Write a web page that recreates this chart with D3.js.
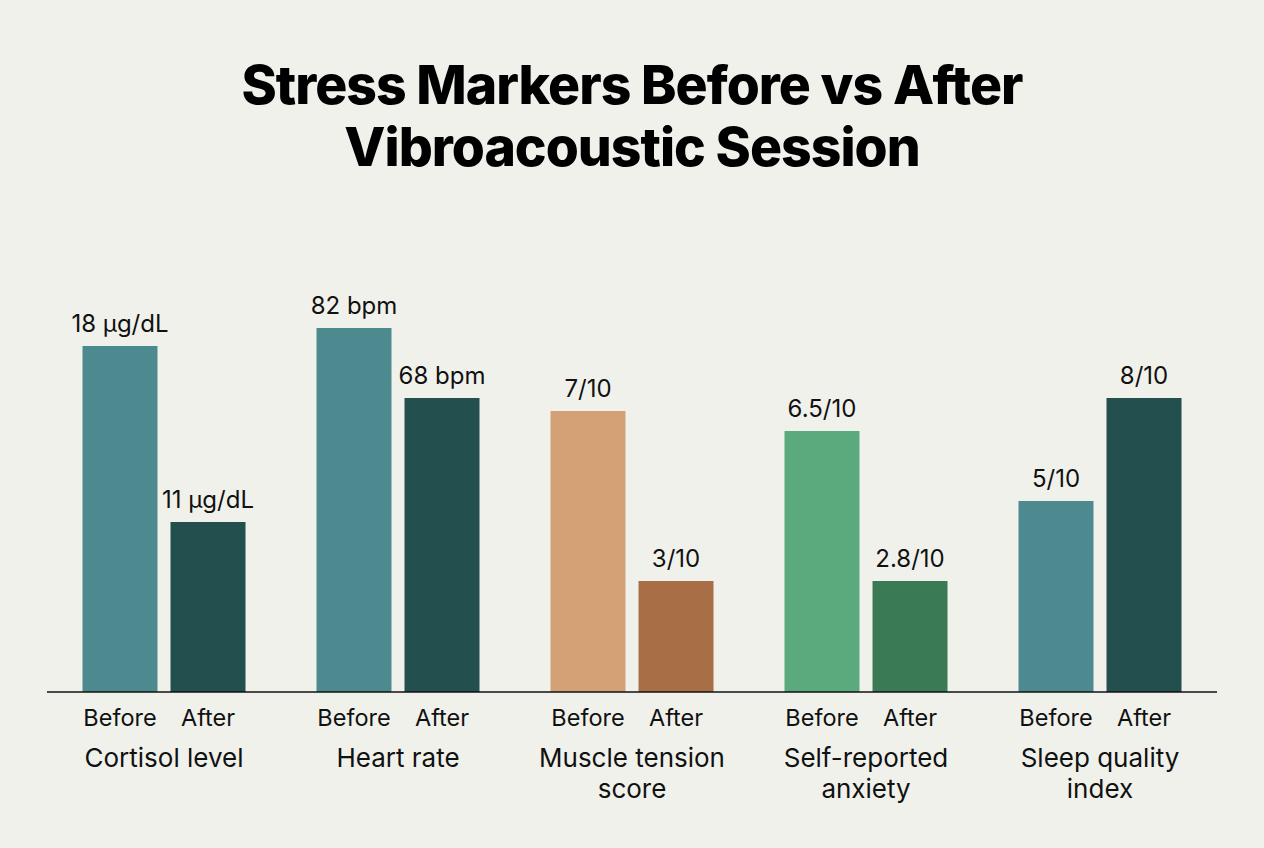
<!DOCTYPE html>
<html lang="en">
<head>
  <meta charset="UTF-8">
  <title>Stress Markers Before vs After</title>
  <script src="https://d3js.org/d3.v7.min.js"></script>
  <style>
    body { margin: 0; background: #f1f1ec; }
    svg { display: block; font-family: Inter, "Noto Sans", sans-serif; }
  </style>
</head>
<body>
  <svg width="1264" height="848"></svg>
  <script>
    // data
    const metrics = ["Cortisol level", "Heart rate", "Muscle tension score", "Self-reported anxiety", "Sleep quality index"];
    const metricLines = [["Cortisol level"], ["Heart rate"], ["Muscle tension", "score"], ["Self-reported", "anxiety"], ["Sleep quality", "index"]];
    const phases = ["Before", "After"];
    const beforeLabels = ["18 µg/dL", "82 bpm", "7/10", "6.5/10", "5/10"];
    const afterLabels = ["11 µg/dL", "68 bpm", "3/10", "2.8/10", "8/10"];
    // bar height as drawn, in % of plot height
    const beforeLevel = [86.5, 91, 70.25, 65.25, 47.75];
    const afterLevel = [42.5, 73.5, 27.75, 27.75, 73.5];
    const beforeColors = ["#4d8a8f", "#4d8a8f", "#d4a176", "#5aaa7e", "#4d8a8f"];
    const afterColors = ["#234f4f", "#234f4f", "#a86e45", "#3a7b55", "#234f4f"];

    const svg = d3.select("svg");
    const baseY = 692;

    const x = d3.scaleBand().domain(metrics).range([47, 1217]);
    const xInner = d3.scaleBand().domain(phases).range([35.5, 198.5]).paddingInner(0.148);
    const y = d3.scaleLinear().domain([0, 100]).range([baseY, baseY - 400]);

    // title
    svg.append("text")
      .attr("x", 632).attr("y", 0)
      .attr("text-anchor", "middle")
      .style("font-weight", 800).style("font-size", "53.5px").style("letter-spacing", "-1px")
      .selectAll("tspan")
      .data(["Stress Markers Before vs After", "Vibroacoustic Session"])
      .join("tspan")
      .attr("x", 632)
      .attr("y", (d, i) => 104 + i * 62)
      .text(d => d);

    const bars = [];
    metrics.forEach((m, i) => {
      bars.push({ m, phase: "Before", level: beforeLevel[i], label: beforeLabels[i], color: beforeColors[i] });
      bars.push({ m, phase: "After", level: afterLevel[i], label: afterLabels[i], color: afterColors[i] });
    });

    svg.append("g").selectAll("rect")
      .data(bars)
      .join("rect")
      .attr("x", d => x(d.m) + xInner(d.phase))
      .attr("y", d => y(d.level))
      .attr("width", xInner.bandwidth())
      .attr("height", d => y(0) - y(d.level))
      .attr("fill", d => d.color);

    svg.append("g").selectAll("text")
      .data(bars)
      .join("text")
      .attr("x", d => x(d.m) + xInner(d.phase) + xInner.bandwidth() / 2)
      .attr("y", d => y(d.level) - 14)
      .attr("text-anchor", "middle")
      .style("font-size", "24px")
      .attr("fill", "#111")
      .text(d => d.label);

    // baseline
    svg.append("line")
      .attr("x1", 47).attr("x2", 1217)
      .attr("y1", baseY).attr("y2", baseY)
      .attr("stroke", "#111").attr("stroke-width", 1.3);

    // Before / After labels
    svg.append("g").selectAll("text")
      .data(bars)
      .join("text")
      .attr("x", d => x(d.m) + xInner(d.phase) + xInner.bandwidth() / 2)
      .attr("y", 726)
      .attr("text-anchor", "middle")
      .style("font-size", "23.5px")
      .attr("fill", "#111")
      .text(d => d.phase);

    // metric names
    svg.append("g").selectAll("text")
      .data(metrics)
      .join("text")
      .attr("text-anchor", "middle")
      .style("font-size", "26px")
      .attr("fill", "#111")
      .selectAll("tspan")
      .data((d, i) => metricLines[i].map(t => ({ t, cx: x(d) + x.bandwidth() / 2 })))
      .join("tspan")
      .attr("x", d => d.cx)
      .attr("y", (d, i) => 767 + i * 31)
      .text(d => d.t);
  </script>
</body>
</html>
